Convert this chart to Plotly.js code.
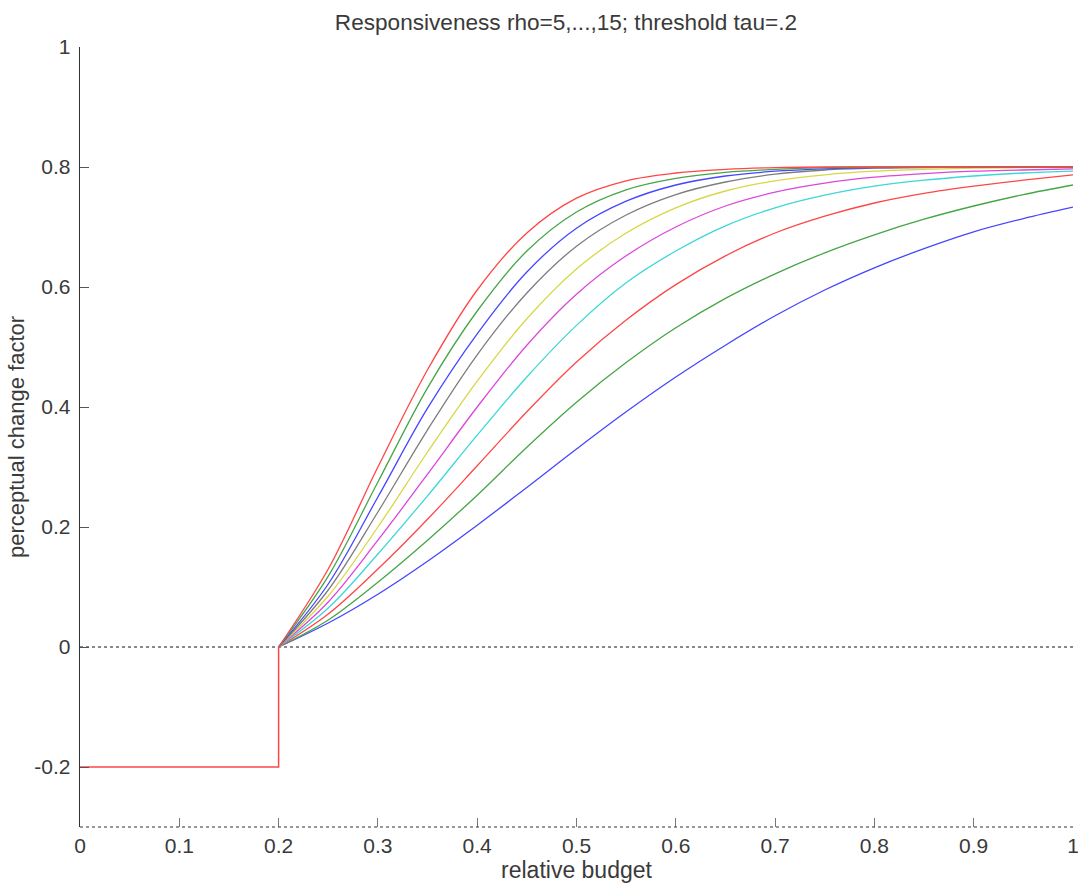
<!DOCTYPE html>
<html>
<head>
<meta charset="utf-8">
<script src="https://cdn.plot.ly/plotly-3.0.1.min.js"></script>
<style>
  html, body { margin: 0; padding: 0; background: #fff; }
  #chart { width: 1078px; height: 886px; }
</style>
</head>
<body>
<div id="chart"></div>
<script>
// Relative budget sample points (x)
const budget = [0.2, 0.25, 0.3, 0.35, 0.4, 0.45, 0.5, 0.55, 0.6, 0.65, 0.7, 0.75, 0.8, 0.85, 0.9, 0.95, 1.0];

// Perceptual change factor per curve, lowest to highest
const rho5  = [0, 0.040, 0.088, 0.143, 0.203, 0.266, 0.330, 0.392, 0.450, 0.503, 0.552, 0.595, 0.632, 0.664, 0.692, 0.714, 0.733];
const rho6  = [0, 0.045, 0.108, 0.178, 0.253, 0.333, 0.408, 0.474, 0.532, 0.581, 0.622, 0.657, 0.687, 0.713, 0.735, 0.754, 0.770];
const rho7  = [0, 0.055, 0.130, 0.213, 0.302, 0.392, 0.475, 0.545, 0.604, 0.652, 0.690, 0.718, 0.740, 0.756, 0.768, 0.778, 0.787];
const rho8  = [0, 0.065, 0.155, 0.252, 0.353, 0.450, 0.536, 0.607, 0.660, 0.702, 0.732, 0.753, 0.768, 0.778, 0.785, 0.790, 0.793];
const rho9  = [0, 0.075, 0.178, 0.288, 0.400, 0.503, 0.588, 0.652, 0.700, 0.735, 0.758, 0.773, 0.783, 0.789, 0.793, 0.795, 0.797];
const rho10 = [0, 0.085, 0.200, 0.325, 0.443, 0.547, 0.630, 0.690, 0.732, 0.760, 0.777, 0.787, 0.793, 0.796, 0.798, 0.799, 0.800];
const rho11 = [0, 0.095, 0.225, 0.362, 0.487, 0.590, 0.668, 0.720, 0.754, 0.775, 0.788, 0.795, 0.798, 0.799, 0.800, 0.800, 0.800];
const rho12 = [0, 0.105, 0.250, 0.398, 0.522, 0.625, 0.698, 0.743, 0.770, 0.785, 0.793, 0.797, 0.799, 0.800, 0.800, 0.800, 0.800];
const rho13 = [0, 0.118, 0.275, 0.432, 0.560, 0.660, 0.725, 0.762, 0.781, 0.791, 0.796, 0.799, 0.800, 0.800, 0.800, 0.800, 0.800];
const rho14 = [0, 0.130, 0.300, 0.462, 0.595, 0.690, 0.748, 0.777, 0.790, 0.796, 0.799, 0.800, 0.800, 0.800, 0.800, 0.800, 0.800];

const curveNames = ["rho=5","rho=6","rho=7","rho=8","rho=9","rho=10","rho=11","rho=12","rho=13","rho=14"];
const curveValues = [rho5, rho6, rho7, rho8, rho9, rho10, rho11, rho12, rho13, rho14];
const curveColors = ["rgb(70,70,255)","rgb(70,165,70)","rgb(255,70,70)","rgb(60,215,215)","rgb(220,70,220)",
                     "rgb(215,215,70)","rgb(125,125,125)","rgb(70,70,255)","rgb(70,165,70)","rgb(255,70,70)"];

// Step below the threshold
const stepX = [0, 0.2, 0.2];
const stepY = [-0.2, -0.2, 0];

// Reference zero line
const zeroX = [0, 1];
const zeroY = [0, 0];

const xTicks = [0, 0.1, 0.2, 0.3, 0.4, 0.5, 0.6, 0.7, 0.8, 0.9, 1];
const xTickText = ["0","0.1","0.2","0.3","0.4","0.5","0.6","0.7","0.8","0.9","1"];
const yTicks = [-0.2, 0, 0.2, 0.4, 0.6, 0.8, 1];
const yTickText = ["-0.2","0","0.2","0.4","0.6","0.8","1"];

const traces = [];
traces.push({
  x: zeroX, y: zeroY, mode: "lines", name: "zero",
  line: { color: "rgb(20,20,20)", width: 1.2, dash: "dot" }, hoverinfo: "skip"
});
curveValues.forEach((vals, i) => {
  traces.push({
    x: budget, y: vals, mode: "lines", name: curveNames[i],
    line: { color: curveColors[i], width: 1.3, shape: "spline", smoothing: 1 }
  });
});
traces.push({
  x: stepX, y: stepY, mode: "lines", name: "step",
  line: { color: "rgb(255,70,70)", width: 1.5 }
});

const textColor = "#3a3a3a";
const layout = {
  width: 1078, height: 886,
  margin: { l: 80, r: 5, t: 47, b: 59 },
  paper_bgcolor: "#ffffff", plot_bgcolor: "#ffffff",
  showlegend: false,
  font: { family: "Liberation Sans, Arial, sans-serif", size: 21, color: textColor },
  title: {
    text: "Responsiveness rho=5,...,15; threshold tau=.2",
    font: { family: "Liberation Sans, Arial, sans-serif", size: 22.6, color: textColor },
    x: 0.525, xanchor: "center", y: 0.975, yanchor: "middle"
  },
  xaxis: {
    range: [0, 1.000001], autorange: false,
    tickvals: xTicks, ticktext: xTickText,
    ticks: "inside", ticklen: 9, tickwidth: 1, tickcolor: "#777",
    ticklabeloverflow: "allow",
    showline: false, showgrid: false, zeroline: false,
    ticklabelstandoff: 4,
    tickfont: { size: 21, color: textColor },
    title: { text: "relative budget", font: { size: 23, color: textColor }, standoff: 5 }
  },
  yaxis: {
    range: [-0.3, 1], autorange: false,
    tickvals: yTicks, ticktext: yTickText,
    ticks: "inside", ticklen: 9, tickwidth: 1, tickcolor: "#555",
    showline: true, linecolor: "#333", linewidth: 1.3,
    showgrid: false, zeroline: false,
    ticklabelstandoff: 4,
    tickfont: { size: 21, color: textColor },
    title: { text: "perceptual change factor", font: { size: 22, color: textColor }, standoff: 3 }
  },
  shapes: [
    { type: "line", xref: "paper", yref: "paper", x0: 0, x1: 1, y0: 0, y1: 0,
      line: { color: "#333", width: 1.2, dash: "dot" } }
  ]
};

Plotly.newPlot("chart", traces, layout, { displayModeBar: false, staticPlot: true });
</script>
</body>
</html>
